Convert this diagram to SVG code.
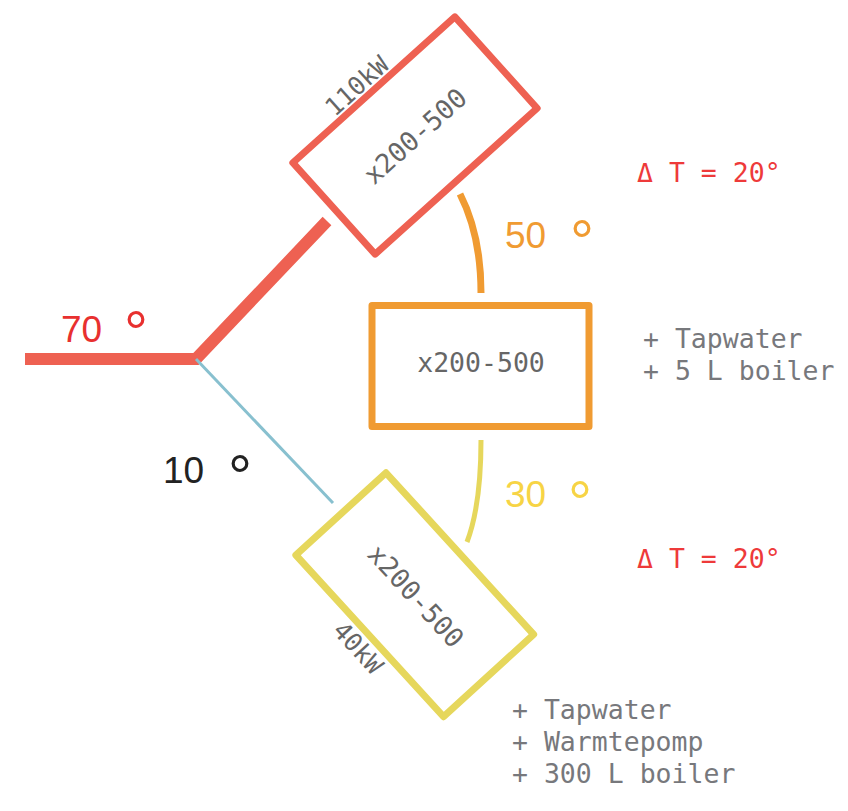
<svg xmlns="http://www.w3.org/2000/svg" width="848" height="811" viewBox="0 0 848 811">
<style>
.box{fill:#fff;stroke-width:7;stroke-linejoin:round}
.mono{font-family:"DejaVu Sans Mono","Liberation Mono",monospace;font-size:26.5px}
.lbl{fill:#666;text-anchor:middle;dominant-baseline:central}
.note{fill:#77787c}
.num{font-family:"Liberation Sans",Arial,sans-serif;font-size:37px}
.deg{font-size:60px}
.dt{fill:#ee3a3a}
</style>
<rect width="848" height="811" fill="#fff"/>
<g id="connectors" fill="none">
<polyline points="25,359 196,359 327,221" stroke="#ee6152" stroke-width="12" stroke-linejoin="miter"/>
<line x1="196" y1="359" x2="333" y2="503" stroke="#88c0cf" stroke-width="3"/>
<path d="M460,194 Q481,235 481,293" stroke="#f09b32" stroke-width="7"/>
<path d="M481,440 Q481,505 467,542" stroke="#e6d75c" stroke-width="5"/>
</g>
<g id="node-top">
<rect class="box" x="-109" y="-61.5" width="218" height="123" stroke="#ee6152" transform="translate(415,135.5) rotate(-42)"/>
<text class="mono lbl" transform="translate(415,136) rotate(-42)">x200-500</text>
<text class="mono lbl" style="font-size:25px" transform="translate(357,86) rotate(-42)">110kW</text>
</g>
<g id="node-middle">
<rect class="box" x="372" y="305.5" width="217" height="121" stroke="#f09b32"/>
<text class="mono lbl" x="481" y="362">x200-500</text>
</g>
<g id="node-bottom">
<rect class="box" x="-109.5" y="-61" width="219" height="122" stroke="#e6d75c" transform="translate(414.75,594.75) rotate(47.6)"/>
<text class="mono lbl" transform="translate(416,596) rotate(47.6)">x200-500</text>
<text class="mono lbl" style="font-size:25px" transform="translate(358,648) rotate(47.6)">40kW</text>
</g>
<g id="labels">
<text class="num" x="61" y="342" fill="#e8302f">70<tspan class="deg" x="124" y="353">°</tspan></text>
<text class="num" x="163" y="483" fill="#222">10<tspan class="deg" x="228" y="497">°</tspan></text>
<text class="num" x="505" y="248" fill="#f09b32">50<tspan class="deg" x="570" y="262">°</tspan></text>
<text class="num" x="505" y="507" fill="#f7d445">30<tspan class="deg" x="568" y="523">°</tspan></text>
<text class="mono dt" x="637" y="182">Δ T = 20°</text>
<text class="mono dt" x="637" y="568">Δ T = 20°</text>
<text class="mono note" x="643" y="348">+ Tapwater</text>
<text class="mono note" x="643" y="380">+ 5 L boiler</text>
<text class="mono note" x="512" y="719">+ Tapwater</text>
<text class="mono note" x="512" y="751">+ Warmtepomp</text>
<text class="mono note" x="512" y="783">+ 300 L boiler</text>
</g>
</svg>
